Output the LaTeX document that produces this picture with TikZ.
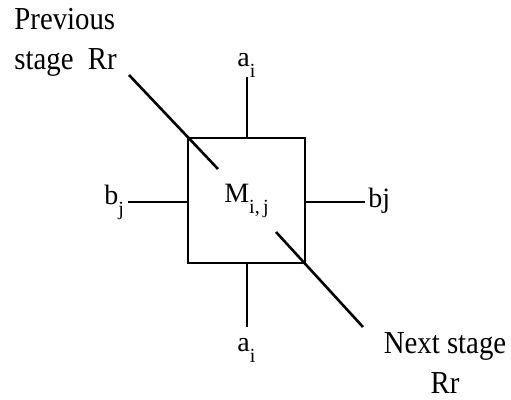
\documentclass[tikz,border=0pt]{standalone}
\usepackage{fontspec}
\setmainfont{Liberation Serif}
\newfontfamily\tallserif[FakeStretch=0.9]{Liberation Serif}
\usetikzlibrary{positioning}
\newcommand{\lsub}[1]{\raisebox{-5.5pt}{\fontsize{10}{10}\selectfont #1}}
\newcommand{\bigtxt}{\tallserif\fontsize{16}{20}\selectfont}
\newcommand{\lbltxt}{\fontsize{14}{16}\selectfont}

\begin{document}
\begin{tikzpicture}[x=0.5pt,y=-0.5pt,
  lbl/.style={inner sep=0pt,font=\lbltxt},
  stub/.style={line width=0.8pt},
  diag/.style={line width=1.3pt}]
  \useasboundingbox (0,0) rectangle (511,400);
  % the cell M_{i,j}
  \node[draw,line width=1pt,minimum width=58.5pt,minimum height=62.5pt,inner sep=0pt,font=\lbltxt]
        (cell) at (246.5,200.5) {M\lsub{i,\,j}};
  % free ends of the stubs
  \coordinate (tA) at (247,77);
  \coordinate (bA) at (247,327);
  \coordinate (lB) at (128,202);
  \coordinate (rB) at (365,202);
  \draw[stub] (cell.north -| tA) -- (tA);
  \draw[stub] (cell.south -| bA) -- (bA);
  \draw[stub] (cell.west |- lB) -- (lB);
  \draw[stub] (cell.east |- rB) -- (rB);
  \node[lbl,anchor=base west] (aTop) at (237,67) {a\lsub{i}};
  \node[lbl,anchor=base west] (aBot) at (237,352) {a\lsub{i}};
  \node[lbl,anchor=base west] (bLeft) at (104,205) {b\lsub{j}};
  \node[lbl,anchor=base west] (bRight) at (368,208) {bj};
  % Rr line passing the corners
  \coordinate (pIn) at (129,75);
  \coordinate (pOut) at (218,169);
  \coordinate (nIn) at (276,232);
  \coordinate (nOut) at (363,327);
  \draw[diag] (pIn) -- (pOut);
  \draw[diag] (nIn) -- (nOut);
  \node[inner sep=0pt,font=\bigtxt,align=left,anchor=north west] (prev) at (14,8) {Previous\\stage\ \ Rr};
  \node[inner sep=0pt,font=\bigtxt,align=center,anchor=north] (next) at (445,332) {Next stage\\Rr};
\end{tikzpicture}
\end{document}
